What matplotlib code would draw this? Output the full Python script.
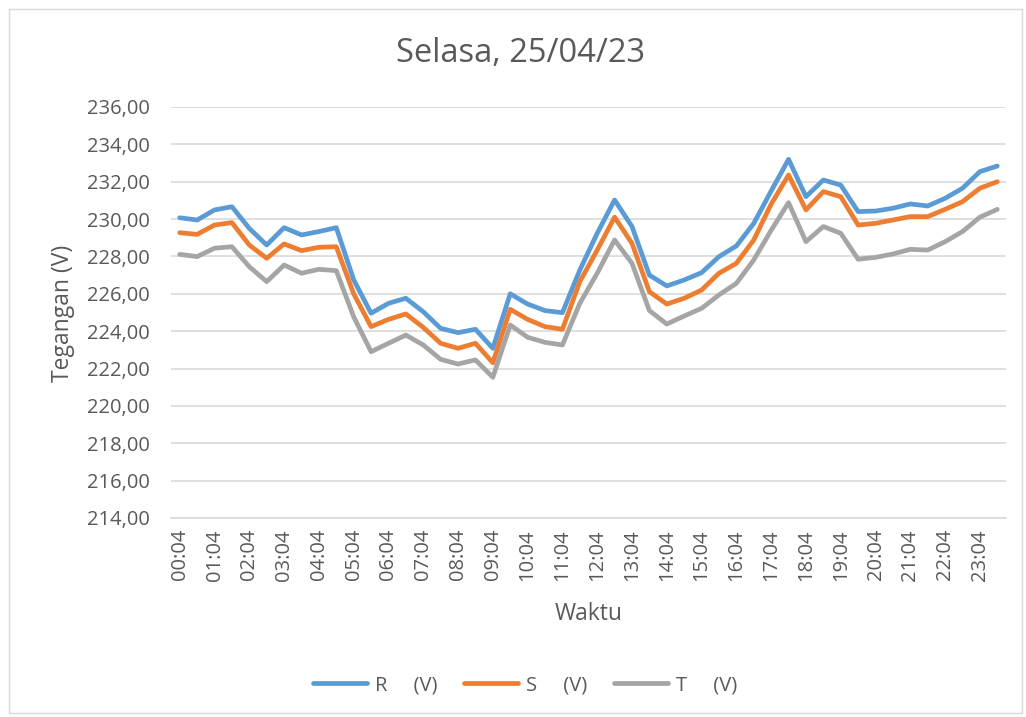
import matplotlib
matplotlib.use("Agg")
import matplotlib.pyplot as plt
from matplotlib.patches import Rectangle

plt.rcParams['font.family'] = ['Open Sans', 'DejaVu Sans']

# 48 half-hourly readings
times = [f"{h:02d}:{m:02d}" for h in range(24) for m in (4, 34)]

R = [230.07, 229.95, 230.49, 230.66, 229.50, 228.61, 229.54, 229.15, 229.33, 229.54,
     226.75, 224.96, 225.49, 225.76, 225.04, 224.15, 223.92, 224.10, 223.08, 226.00,
     225.45, 225.10, 224.99, 227.27, 229.24, 231.02, 229.60, 227.00, 226.42, 226.74,
     227.13, 227.99, 228.56, 229.77, 231.50, 233.20, 231.20, 232.09, 231.82, 230.40,
     230.43, 230.58, 230.81, 230.70, 231.11, 231.65, 232.54, 232.84]
S = [229.27, 229.18, 229.68, 229.81, 228.61, 227.90, 228.67, 228.31, 228.49, 228.52,
     226.00, 224.24, 224.63, 224.92, 224.20, 223.35, 223.08, 223.35, 222.31, 225.17,
     224.63, 224.24, 224.10, 226.65, 228.34, 230.10, 228.70, 226.11, 225.45, 225.76,
     226.20, 227.10, 227.63, 228.88, 230.80, 232.36, 230.49, 231.47, 231.20, 229.68,
     229.77, 229.95, 230.13, 230.13, 230.52, 230.93, 231.65, 232.00]
T = [228.11, 227.99, 228.44, 228.52, 227.45, 226.65, 227.54, 227.10, 227.31, 227.24,
     224.77, 222.90, 223.35, 223.79, 223.26, 222.49, 222.24, 222.46, 221.53, 224.33,
     223.67, 223.40, 223.26, 225.49, 227.10, 228.88, 227.63, 225.10, 224.38, 224.81,
     225.22, 225.94, 226.56, 227.81, 229.40, 230.88, 228.79, 229.60, 229.24, 227.85,
     227.95, 228.13, 228.38, 228.34, 228.79, 229.33, 230.10, 230.52]

series_names = ["R     (V)", "S     (V)", "T     (V)"]
series_colors = ["#5B9BD5", "#ED7D31", "#A5A5A5"]
y_ticks = [214, 216, 218, 220, 222, 224, 226, 228, 230, 232, 234, 236]

title = "Selasa, 25/04/23"
xlabel = "Waktu"
ylabel = "Tegangan (V)"

txt = "#595959"
grid = "#D9D9D9"

fig = plt.figure(figsize=(10.26, 7.17), dpi=100)
fig.patches.append(Rectangle((9 / 1026, 1 - 713 / 717), 1013 / 1026, 704 / 717,
                             transform=fig.transFigure, fill=False,
                             edgecolor=grid, linewidth=1))
ax = fig.add_axes([0.1667, 0.2776, 0.8138, 0.5732])

x = list(range(len(times)))
for vals, name, col in zip([R, S, T], series_names, series_colors):
    ax.plot(x, vals, color=col, linewidth=3.4, label=name,
            solid_joinstyle='round', solid_capstyle='round')

ax.set_xlim(-0.5, len(times) - 0.5)
ax.set_ylim(214, 236)
ax.set_yticks(y_ticks)
ax.set_yticklabels([f"{v:.2f}".replace(".", ",") for v in y_ticks])
ax.set_xticks(x[::2])
ax.set_xticklabels(times[::2], rotation=90)

ax.yaxis.grid(True, color=grid, linewidth=1.2)
ax.set_axisbelow(True)
for s in ["top", "right", "left"]:
    ax.spines[s].set_visible(False)
ax.spines["bottom"].set_color(grid)
ax.spines["bottom"].set_linewidth(1.2)
ax.tick_params(axis='both', length=0, labelcolor=txt, labelsize=14.5)
ax.tick_params(axis='y', pad=15)
ax.tick_params(axis='x', pad=8)

ax.set_xlabel(xlabel, color=txt, fontsize=16.5, labelpad=15)
fig.text(63 / 1026, 1 - 313 / 717, ylabel, rotation=90, ha='center', va='center',
         color=txt, fontsize=16.5)
fig.text(521 / 1026, 1 - 54 / 717, title, ha='center', va='center', color=txt,
         fontsize=23.5)

fig.legend(loc='center', bbox_to_anchor=(525 / 1026, 1 - 685 / 717), ncol=3,
           frameon=False, fontsize=14.5, handlelength=2.7, columnspacing=1.3,
           handletextpad=0.4, labelcolor=txt)

fig.savefig("out.png", dpi=100)
